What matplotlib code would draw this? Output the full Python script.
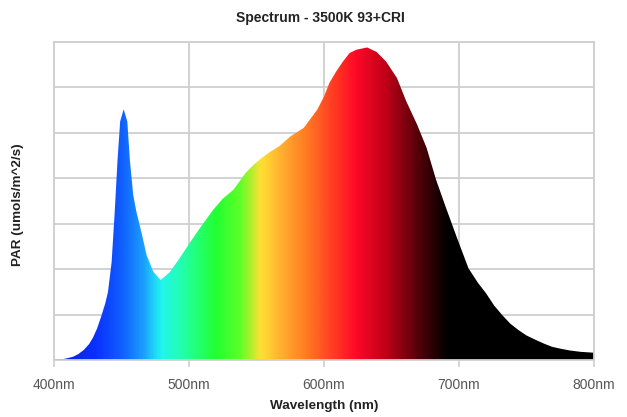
import numpy as np
import matplotlib
matplotlib.use("Agg")
import matplotlib.pyplot as plt
from matplotlib.colors import LinearSegmentedColormap

plt.rcParams["font.family"] = ["Liberation Sans", "DejaVu Sans"]

# spectrum (relative PAR, one grid step = 1)
wavelength = [400, 407, 414, 418, 422, 426, 429, 432, 435, 438, 440, 442.7, 445, 447,
              449, 451.6, 454.3, 456.3, 458.7, 461, 465, 468.6, 473.6, 479, 486, 493,
              501, 508, 518, 525, 533, 542, 548, 554, 560, 567, 575, 585, 595, 600,
              604, 609, 614, 619, 624, 632, 639, 646, 654, 661, 669, 676, 683, 690,
              699, 707, 714, 720, 726, 732, 738, 744, 750, 757, 763, 769, 775, 782,
              790, 800]
par = [0.01, 0.02, 0.07, 0.13, 0.22, 0.35, 0.50, 0.70, 0.96, 1.25, 1.50, 2.16, 3.27, 4.37,
       5.25, 5.52, 5.25, 4.37, 3.63, 3.27, 2.78, 2.31, 1.94, 1.76, 1.94, 2.24,
       2.60, 2.90, 3.31, 3.55, 3.75, 4.12, 4.30, 4.45, 4.58, 4.71, 4.92, 5.11, 5.51, 5.80,
       6.10, 6.35, 6.57, 6.76, 6.83, 6.88, 6.78, 6.57, 6.21, 5.69, 5.18, 4.67, 3.97, 3.38,
       2.65, 2.02, 1.70, 1.47, 1.20, 0.99, 0.80, 0.66, 0.54, 0.44, 0.36, 0.29, 0.25, 0.21,
       0.18, 0.16]

x_ticks = [400, 500, 600, 700, 800]
x_labels = ["400nm", "500nm", "600nm", "700nm", "800nm"]

# spectral colour stops for the fill gradient
stop_nm = [400, 430, 450, 465, 479, 495, 520, 538, 553, 568, 588, 610, 623, 646, 671, 692, 800]
stop_col = ["#0820d0", "#0a30ff", "#1060ff", "#1a9cff", "#22f5f0", "#22ffa8", "#22ff30",
            "#60ff28", "#ffe033", "#ffb030", "#ff7722", "#ff3322", "#ff0a28", "#c00018",
            "#500008", "#000000", "#000000"]

GRID = "#cfcfcf"

fig = plt.figure(figsize=(6.27, 4.17), dpi=100)
ax = fig.add_axes([54 / 627, 1 - 360 / 417, 540 / 627, 318 / 417])
ax.set_xlim(400, 800)
ax.set_ylim(0, 7)

cmap = LinearSegmentedColormap.from_list(
    "spec", [((n - 400) / 400, c) for n, c in zip(stop_nm, stop_col)])
grad = np.linspace(0, 1, 800).reshape(1, -1)
im = ax.imshow(grad, cmap=cmap, extent=[400, 800, 0, 7], aspect="auto",
               interpolation="bilinear", zorder=2)
poly = ax.fill_between(wavelength, 0, par, facecolor="none", edgecolor="none", zorder=2)
im.set_clip_path(poly.get_paths()[0], transform=ax.transData)

ax.set_xticks(x_ticks)
ax.set_xticklabels(x_labels, fontsize=10, color="#555555")
ax.set_yticks(range(8))
ax.set_yticklabels([])
ax.tick_params(axis="x", length=5, color=GRID, width=1.2, pad=8)
ax.tick_params(axis="y", length=0)
ax.grid(True, color=GRID, lw=1.3, zorder=0)
ax.set_axisbelow(True)
for s in ax.spines.values():
    s.set_color(GRID)
    s.set_linewidth(1.3)

fig.text(320 / 627, 1 - 18 / 417, "Spectrum - 3500K 93+CRI", ha="center", va="center",
         fontsize=10, weight="bold", color="#222222")
fig.text(324 / 627, 1 - 406 / 417, "Wavelength (nm)", ha="center", va="center",
         fontsize=9.7, weight="bold", color="#222222")
fig.text(18 / 627, 1 - 205 / 417, "PAR (umols/m^2/s)", ha="center", va="center",
         rotation=90, fontsize=9.7, weight="bold", color="#222222")

fig.savefig("out.png", dpi=100, facecolor="white")
